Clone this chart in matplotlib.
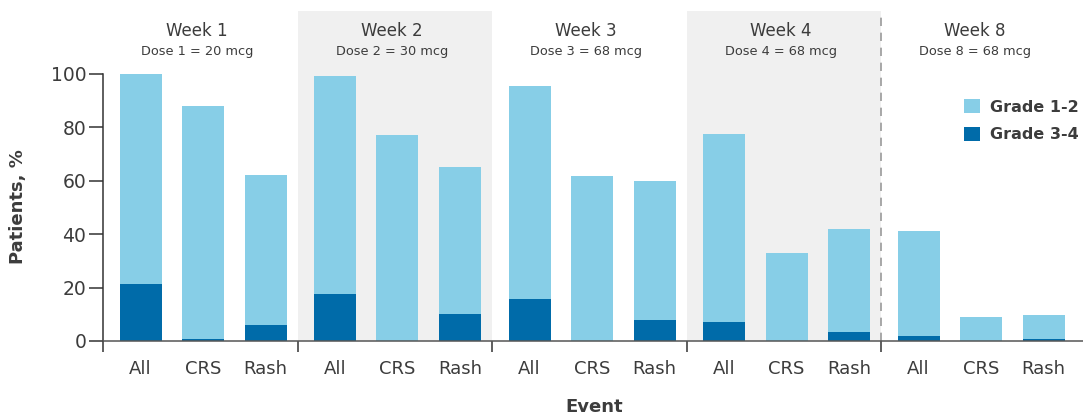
import matplotlib
matplotlib.use("Agg")
import matplotlib.pyplot as plt
from matplotlib.patches import Patch

plt.rcParams['font.family'] = ['DejaVu Sans']

weeks = ["Week 1", "Week 2", "Week 3", "Week 4", "Week 8"]
doses = ["Dose 1 = 20 mcg", "Dose 2 = 30 mcg", "Dose 3 = 68 mcg",
         "Dose 4 = 68 mcg", "Dose 8 = 68 mcg"]
events = ["All", "CRS", "Rash"]

# total (any grade) per week, per event
total = [
    [100.0, 88.0, 62.3],
    [99.2, 77.2, 65.3],
    [95.5, 61.9, 59.7],
    [77.6, 32.8, 42.1],
    [41.0, 8.9, 9.6],
]
grade34 = [
    [21.3, 0.8, 6.0],
    [17.6, 0.0, 10.1],
    [15.7, 0.0, 7.9],
    [7.0, 0.0, 3.3],
    [1.7, 0.0, 0.7],
]

LIGHT = "#87CEE7"
DARK = "#006BA9"
SHADE = "#F0F0F0"
TXT = "#3C3C3C"

G = 3.112      # group width (x units)
OFF = 0.6      # first bar offset inside group
W = 0.672      # bar width
YTOP = 123.5

fig = plt.figure(figsize=(10.83, 4.17), dpi=100)
ax = fig.add_axes([103/1083, 76/417, 980/1083, 330/417])

xs, labels = [], []
for g in range(len(weeks)):
    for j in range(len(events)):
        x = g*G + OFF + j
        t = total[g][j]
        d = grade34[g][j]
        ax.bar(x, d, width=W, color=DARK, zorder=3, linewidth=0)
        ax.bar(x, t - d, bottom=d, width=W, color=LIGHT, zorder=3, linewidth=0)
        xs.append(x)
        labels.append(events[j])
    cx = g*G + G/2 - 0.05
    ax.text(cx, 116.0, weeks[g], ha='center', va='center', fontsize=12, color=TXT)
    ax.text(cx, 108.4, doses[g], ha='center', va='center', fontsize=9.3, color=TXT)

# shaded weeks 2 and 4
ax.axvspan(G, 2*G, color=SHADE, zorder=0, linewidth=0)
ax.axvspan(3*G, 4*G, color=SHADE, zorder=0, linewidth=0)
ax.axvline(4*G, color="#9A9A9A", linestyle=(0, (5, 4)), linewidth=1.2, zorder=4)

ax.set_xlim(0, 980/62.5)
ax.set_ylim(0, YTOP)

for s in ['top', 'right']:
    ax.spines[s].set_visible(False)
ax.spines['left'].set_bounds(0, 100)
ax.spines['left'].set_color("#333333")
ax.spines['left'].set_linewidth(1.1)
ax.spines['bottom'].set_color("#555555")
ax.spines['bottom'].set_linewidth(1.1)
ax.spines['bottom'].set_zorder(5)

ax.set_yticks([0, 20, 40, 60, 80, 100])
ax.tick_params(axis='y', length=10, width=1.1, color="#333333", pad=2,
               labelsize=13.5, labelcolor=TXT)

ax.set_xticks([g*G for g in range(5)])
ax.set_xticklabels([])
ax.tick_params(axis='x', which='major', length=8, width=1.1, color="#333333")
ax.set_xticks(xs, minor=True)
ax.set_xticklabels(labels, minor=True)
ax.tick_params(axis='x', which='minor', length=0, pad=14, labelsize=13, labelcolor=TXT)

fig.text(18/1083, 1 - 207/417, "Patients, %", rotation=90, ha='center', va='center',
         fontsize=13, fontweight='bold', color=TXT)
fig.text(594/1083, 1 - 407/417, "Event", ha='center', va='center',
         fontsize=13, fontweight='bold', color=TXT)

handles = [Patch(facecolor=LIGHT, label="Grade 1-2"),
           Patch(facecolor=DARK, label="Grade 3-4")]
leg = ax.legend(handles=handles, loc='upper left',
                bbox_to_anchor=((964-103)/980, (341-99)/330),
                frameon=False, borderpad=0, borderaxespad=0,
                handlelength=1.0, handleheight=1.0, handletextpad=0.6,
                labelspacing=0.75, prop={'size': 11.5, 'weight': 'bold'})
for t in leg.get_texts():
    t.set_color(TXT)

fig.savefig("out.png", dpi=100)
